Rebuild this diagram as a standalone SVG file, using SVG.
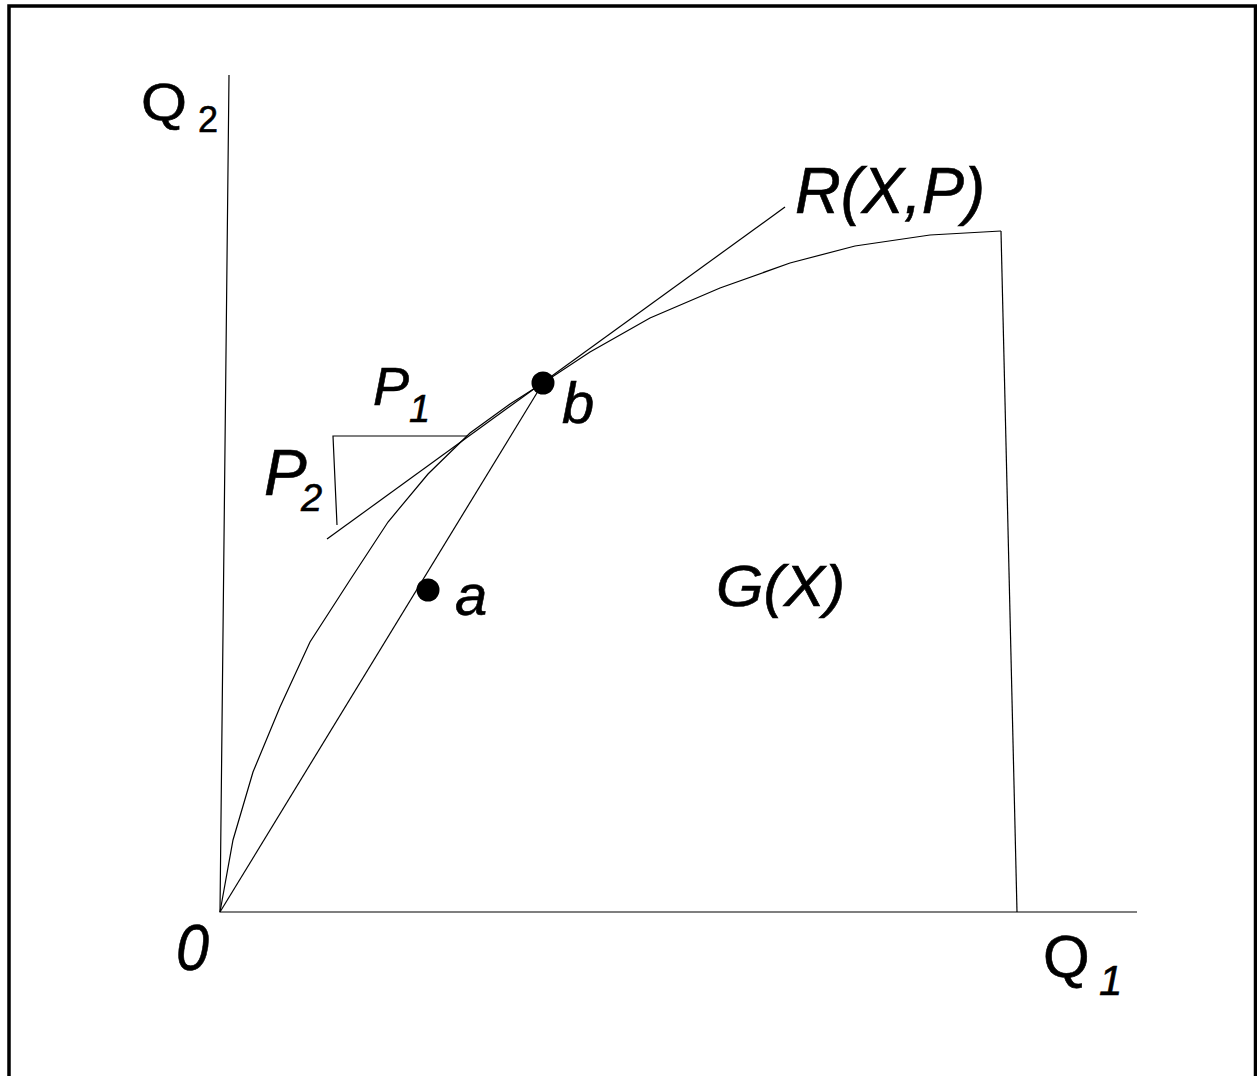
<svg xmlns="http://www.w3.org/2000/svg" width="1257" height="1076" viewBox="0 0 1257 1076">
<style>
.ln{fill:none;stroke:#000;stroke-width:1.2}
.t{font-family:"Liberation Sans",Arial,sans-serif;fill:#000;stroke:#000;stroke-width:0.6}
.i{font-style:italic}
</style>
<rect x="0" y="0" width="1257" height="1076" fill="#fff"/>
<g id="frame"><path d="M9,1080 V6 H1255.5 V1080" fill="none" stroke="#000" stroke-width="3.5"/></g>
<g id="connectors">
<path class="ln" d="M229,75 L220,912 L1137,912"/>
<path class="ln" d="M1017,912 L1001,231"/>
<path class="ln" d="M220,912 L233,840 L253,772 L280,707 L310,642 L350,580 L388,522 L428,474 L470,433 L510,404 L543,383 L590,352 L650,318 L720,288 L790,263 L855,246 L930,235 L1001,231"/>
<path class="ln" d="M327,539 L785,207"/>
<path class="ln" d="M220,912 L543,383"/>
<path class="ln" d="M467,436 L333,436 L337,525"/>
</g>
<g id="point-b"><circle cx="543" cy="383" r="11.5"/><text class="t i" x="562" y="423" font-size="58">b</text></g>
<g id="point-a"><circle cx="428" cy="590" r="11.5"/><text class="t i" x="455" y="615" font-size="58">a</text></g>
<g id="label-Q2"><text class="t" x="141" y="120" font-size="52" textLength="46" lengthAdjust="spacingAndGlyphs">Q</text><text class="t" x="198" y="132" font-size="36">2</text></g>
<g id="label-Q1"><text class="t" x="1043" y="977" font-size="60">Q</text><text class="t i" x="1099" y="995" font-size="42">1</text></g>
<g id="label-0"><text class="t i" x="176" y="970" font-size="64" textLength="33" lengthAdjust="spacingAndGlyphs">0</text></g>
<g id="label-R"><text class="t i" x="795" y="213" font-size="65" textLength="190" lengthAdjust="spacingAndGlyphs">R(X,P)</text></g>
<g id="label-G"><text class="t i" x="716" y="606" font-size="58" textLength="129" lengthAdjust="spacingAndGlyphs">G(X)</text></g>
<g id="label-P1"><text class="t i" x="373" y="405" font-size="54">P</text><text class="t i" x="409" y="422" font-size="38">1</text></g>
<g id="label-P2"><text class="t i" x="264" y="495" font-size="64">P</text><text class="t i" x="301" y="511" font-size="38">2</text></g>
</svg>
